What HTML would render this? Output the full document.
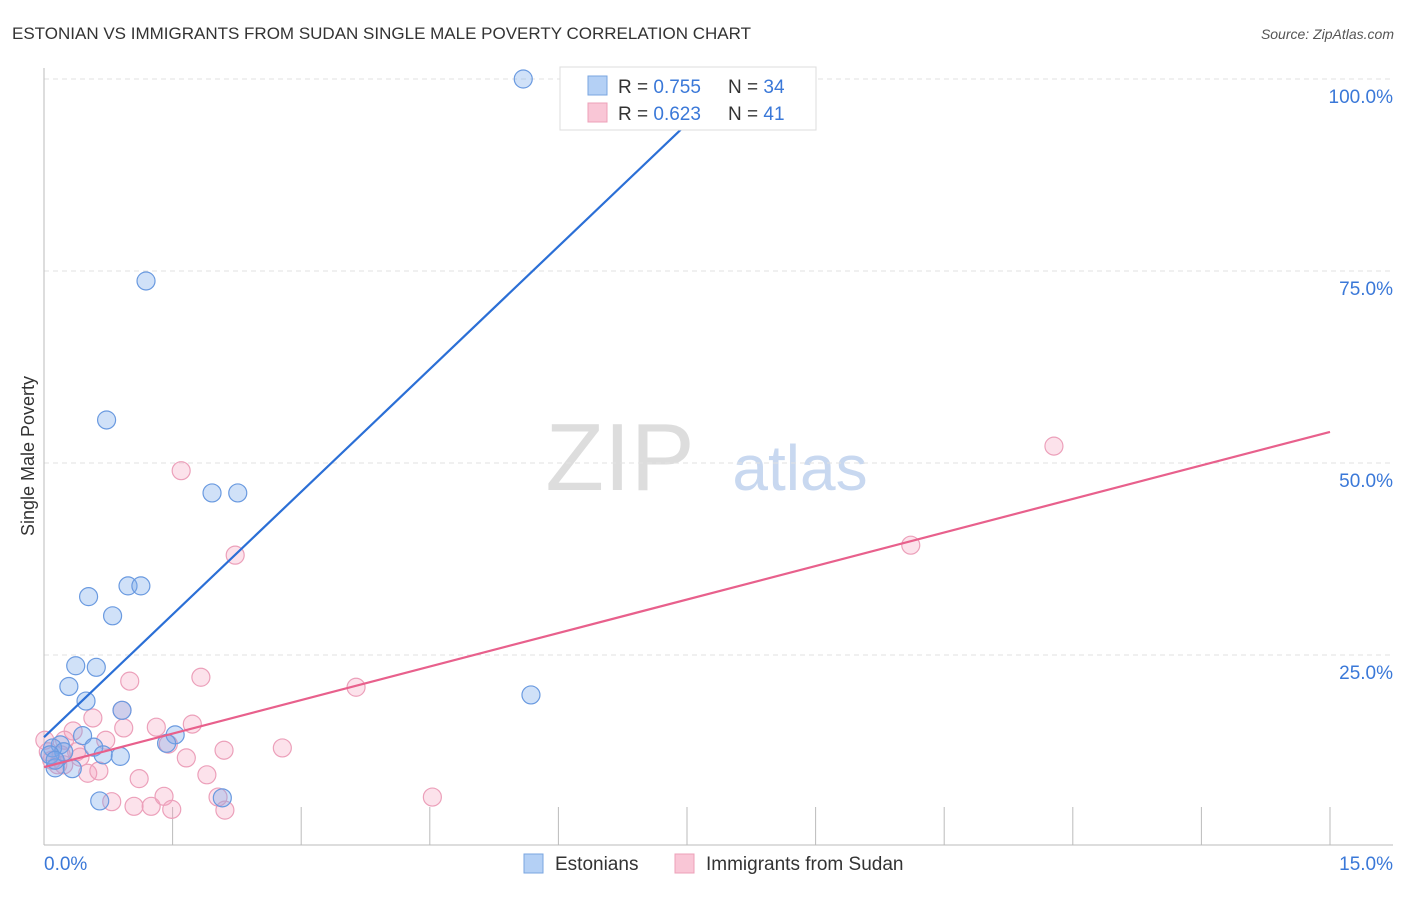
<!DOCTYPE html>
<html><head><meta charset="utf-8"><style>
body{margin:0;background:#fff;font-family:"Liberation Sans",sans-serif;}
svg text{font-family:"Liberation Sans",sans-serif;}
</style></head><body>
<svg id="c" width="1406" height="892">
<text x="12" y="39" font-size="17" fill="#333">ESTONIAN VS IMMIGRANTS FROM SUDAN SINGLE MALE POVERTY CORRELATION CHART</text>
<text x="1394" y="39" font-size="14" fill="#555" font-style="italic" text-anchor="end">Source: ZipAtlas.com</text>
<text x="620" y="490" font-size="96" fill="#ddd" font-family="Liberation Serif" text-anchor="middle">ZIP</text>
<text x="800" y="490" font-size="64" fill="#c8d8f0" text-anchor="middle">atlas</text>
<text x="34" y="456" font-size="18" fill="#333" text-anchor="middle" transform="rotate(-90 34 456)">Single Male Poverty</text>
<g id="axes"></g><g id="marks"></g>
<g>
<rect x="560" y="67" width="256" height="63" fill="#fff" stroke="#ddd"/>
<rect x="588" y="76" width="19" height="19" fill="#b4d0f5" stroke="#7aa6e0"/>
<rect x="588" y="103" width="19" height="19" fill="#f9c6d6" stroke="#eda0b8"/>
<text x="618" y="93" font-size="19" fill="#333">R = <tspan fill="#3a78d8">0.755</tspan></text>
<text x="728" y="93" font-size="19" fill="#333">N = <tspan fill="#3a78d8">34</tspan></text>
<text x="618" y="120" font-size="19" fill="#333">R = <tspan fill="#3a78d8">0.623</tspan></text>
<text x="728" y="120" font-size="19" fill="#333">N = <tspan fill="#3a78d8">41</tspan></text>
</g>
<g>
<rect x="524" y="854" width="19" height="19" fill="#b4d0f5" stroke="#7aa6e0"/>
<text x="555" y="870" font-size="19" fill="#333">Estonians</text>
<rect x="675" y="854" width="19" height="19" fill="#f9c6d6" stroke="#eda0b8"/>
<text x="706" y="870" font-size="19" fill="#333">Immigrants from Sudan</text>
</g>
</svg>
<script>
const blueX=[5.59,6.46,8.11,1.19,0.73,1.96,2.26,0.98,1.13,0.52,0.80,0.37,0.61,0.29,0.49,5.68,0.91,1.53,1.43,0.45,0.19,0.10,0.23,0.58,0.69,0.89,0.07,0.13,0.33,0.65,2.08,0.13];
const blueY=[100,99.9,100,73.7,55.6,46.1,46.1,34.0,34.0,32.6,30.1,23.6,23.4,20.9,19.0,19.8,17.8,14.6,13.5,14.5,13.3,12.9,12.4,13.0,12.0,11.8,12.0,10.3,10.2,6.0,6.4,11.3];
const pinkX=[11.78,10.11,1.60,2.23,3.64,1.83,1.00,1.73,1.31,0.93,0.72,0.57,0.34,0.24,0.38,0.09,0.01,0.23,0.51,0.64,1.11,1.66,1.90,2.10,2.78,4.53,0.79,1.05,1.25,1.40,1.49,2.03,2.11,1.45,0.05,0.20,0.42,0.16,0.91];
const pinkY=[52.2,39.3,49.0,38.0,20.8,22.1,21.6,16.0,15.6,15.5,13.9,16.8,15.1,13.9,12.4,11.3,13.9,10.7,9.6,9.9,8.9,11.6,9.4,12.6,12.9,6.5,5.9,5.3,5.3,6.6,4.9,6.5,4.8,13.4,12.4,12.0,11.7,10.7,17.8];
const blueTrend=[14.3,10.65];
const pinkTrend=[10.4,2.91];
const yTicks=[25,50,75,100];
const yTickLabels=["25.0%","50.0%","75.0%","100.0%"];
const xTicks=[0,1.5,3,4.5,6,7.5,9,10.5,12,13.5,15];
const NS='http://www.w3.org/2000/svg';
const sx=v=>44+v/15*1286, sy=v=>847-v*7.68;
const axes=document.getElementById('axes'), marks=document.getElementById('marks');
function mk(p,tag,a){const e=document.createElementNS(NS,tag);for(const k in a)e.setAttribute(k,a[k]);p.appendChild(e);return e;}
yTicks.forEach((t,i)=>{
 const g=mk(axes,'line',{x1:44,x2:1393,y1:sy(t),y2:sy(t),stroke:'#e2e2e2','stroke-dasharray':'5,4'});
 
 
 const l=mk(axes,'text',{x:1393,y:sy(t)+24,'font-size':19,fill:'#3a78d8','text-anchor':'end'});l.textContent=yTickLabels[i];
 
 
});
const ax=mk(axes,'line',{x1:44,x2:44,y1:68,y2:845,stroke:'#bbb'});


const bx=mk(axes,'line',{x1:44,x2:1393,y1:845,y2:845,stroke:'#bbb'});


xTicks.forEach(t=>{const k=mk(axes,'line',{x1:sx(t),x2:sx(t),y1:807,y2:845,stroke:'#bbb'});
 
 });
const xl0=mk(axes,'text',{x:44,y:870,'font-size':19,fill:'#3a78d8'});xl0.textContent='0.0%';


const xl1=mk(axes,'text',{x:1393,y:870,'font-size':19,fill:'#3a78d8','text-anchor':'end'});xl1.textContent='15.0%';


pinkX.forEach((x,i)=>{const c=mk(marks,'circle',{cx:sx(x),cy:sy(pinkY[i]),r:9,fill:'rgba(244,160,188,0.3)',stroke:'#eca0ba','stroke-width':1.2});
 
 });
blueX.forEach((x,i)=>{const c=mk(marks,'circle',{cx:sx(x),cy:sy(blueY[i]),r:9,fill:'rgba(120,170,235,0.35)',stroke:'#6a9ae0','stroke-width':1.2});
 
 });
const bxEnd=(100-blueTrend[0])/blueTrend[1];
const bl=mk(marks,'line',{x1:sx(0),y1:sy(blueTrend[0]),x2:sx(bxEnd),y2:sy(100),stroke:'#2b6fd6','stroke-width':2.2});


const pl=mk(marks,'line',{x1:sx(0),y1:sy(pinkTrend[0]),x2:sx(15),y2:sy(pinkTrend[0]+15*pinkTrend[1]),stroke:'#e8608c','stroke-width':2.2});


</script>
</body></html>
